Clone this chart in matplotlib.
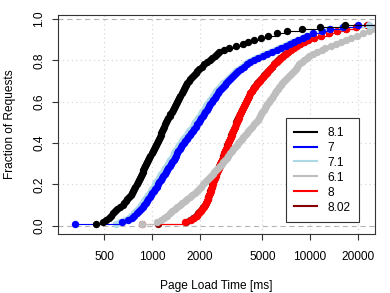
import numpy as np
import matplotlib.pyplot as plt
from matplotlib.lines import Line2D
from matplotlib.ticker import NullLocator

plt.rcParams['font.family'] = ['Liberation Sans', 'DejaVu Sans']

# page load times [ms], sorted, one value per percentile of requests
t_81 = [443, 490, 512, 532, 550, 566, 584, 604, 628, 652,
        668, 684, 698, 714, 731, 748, 760, 773, 785, 798,
        811, 824, 837, 849, 861, 871, 883, 895, 908, 920,
        933, 946, 961, 977, 993, 1009, 1026, 1040, 1057, 1074,
        1089, 1104, 1119, 1132, 1148, 1164, 1180, 1194, 1211, 1230,
        1250, 1271, 1291, 1309, 1330, 1352, 1374, 1396, 1419, 1442,
        1466, 1489, 1514, 1538, 1563, 1589, 1611, 1637, 1663, 1706,
        1750, 1795, 1841, 1888, 1936, 1995, 2070, 2148, 2228, 2312,
        2399, 2489, 2570, 2650, 2850, 3080, 3380, 3767, 4055, 4426,
        4898, 5420, 6180, 7150, 8890, 11570, 16660, 28000, 35000, 50000]
t_7 = [326, 646, 705, 742, 769, 798, 827, 852, 871, 890,
       910, 930, 943, 964, 986, 1007, 1030, 1052, 1076, 1091,
       1112, 1133, 1155, 1177, 1200, 1223, 1246, 1270, 1294, 1319,
       1344, 1368, 1392, 1417, 1442, 1467, 1495, 1521, 1548, 1583,
       1618, 1653, 1690, 1727, 1765, 1804, 1844, 1885, 1927, 1969,
       2013, 2051, 2091, 2131, 2171, 2213, 2255, 2295, 2335, 2387,
       2440, 2497, 2552, 2609, 2670, 2733, 2806, 2881, 2957, 3036,
       3117, 3209, 3304, 3401, 3517, 3637, 3794, 3964, 4171, 4421,
       4687, 5004, 5344, 5748, 6182, 6553, 7049, 7472, 7920, 8396,
       9000, 9572, 10447, 11912, 13383, 16175, 20128, 30000, 40000, 60000]
t_71 = [592, 627, 675, 710, 736, 764, 791, 815, 834, 852,
        871, 890, 902, 923, 944, 964, 986, 1007, 1030, 1044,
        1064, 1084, 1105, 1126, 1148, 1170, 1192, 1215, 1238, 1262,
        1286, 1309, 1332, 1356, 1380, 1404, 1431, 1456, 1481, 1515,
        1548, 1582, 1617, 1653, 1689, 1726, 1765, 1804, 1844, 1884,
        1926, 1963, 2001, 2039, 2078, 2118, 2158, 2196, 2235, 2284,
        2335, 2390, 2442, 2497, 2555, 2616, 2685, 2757, 2830, 2949,
        3028, 3117, 3209, 3303, 3416, 3533, 3685, 3850, 4051, 4294,
        4552, 4860, 5191, 5583, 6005, 6365, 6847, 7257, 7693, 8274,
        8870, 9433, 10296, 11739, 13189, 15940, 23500, 30000, 42000, 60000]
t_61 = [864, 1076, 1140, 1191, 1244, 1291, 1338, 1388, 1440, 1493,
        1548, 1606, 1665, 1727, 1791, 1858, 1927, 1984, 2042, 2103,
        2165, 2229, 2295, 2356, 2418, 2483, 2549, 2617, 2694, 2761,
        2831, 2902, 2974, 3045, 3117, 3195, 3275, 3352, 3436, 3522,
        3605, 3696, 3788, 3878, 3975, 4075, 4171, 4294, 4421, 4552,
        4687, 4762, 4839, 4917, 4997, 5078, 5160, 5243, 5328, 5461,
        5582, 5714, 5840, 5978, 6110, 6254, 6392, 6543, 6688, 6855,
        7048, 7246, 7449, 7669, 7885, 8106, 8333, 8567, 8872, 9202,
        9543, 9854, 10445, 11153, 11909, 12532, 13578, 14604, 15708, 16895,
        18172, 19832, 21644, 23622, 25780, 28548, 32000, 40000, 50000, 65000]
t_8 = [864, 1618, 1753, 1844, 1913, 1978, 2030, 2075, 2121, 2165,
       2197, 2226, 2252, 2275, 2298, 2322, 2346, 2369, 2394, 2418,
       2443, 2468, 2497, 2527, 2556, 2586, 2617, 2647, 2678, 2710,
       2741, 2774, 2806, 2839, 2872, 2906, 2940, 2974, 3009, 3045,
       3080, 3117, 3153, 3190, 3227, 3265, 3304, 3347, 3391, 3436,
       3481, 3527, 3574, 3621, 3674, 3728, 3783, 3838, 3895, 3952,
       4010, 4069, 4129, 4195, 4282, 4370, 4466, 4565, 4673, 4790,
       4910, 5041, 5175, 5312, 5453, 5607, 5772, 5952, 6137, 6327,
       6534, 6756, 6997, 7256, 7547, 7885, 8261, 8681, 9161, 9782,
       10599, 11737, 13188, 14926, 16895, 19545, 23281, 35000, 45000, 60000]
t_802 = [1091, 1630, 1740, 1830, 1900, 1965, 2020, 2068, 2112, 2155,
         2190, 2218, 2245, 2270, 2292, 2315, 2338, 2362, 2386, 2410,
         2435, 2460, 2488, 2517, 2547, 2577, 2607, 2638, 2669, 2700,
         2731, 2763, 2796, 2829, 2862, 2896, 2930, 2964, 2999, 3034,
         3070, 3106, 3143, 3180, 3217, 3255, 3294, 3336, 3380, 3424,
         3469, 3515, 3561, 3608, 3660, 3713, 3768, 3823, 3880, 3937,
         3995, 4054, 4114, 4180, 4265, 4352, 4447, 4545, 4652, 4768,
         4888, 5018, 5150, 5286, 5426, 5578, 5742, 5920, 6104, 6293,
         6498, 6718, 6957, 7214, 7503, 7838, 8210, 8627, 9103, 9720,
         10530, 11660, 13100, 14830, 16790, 19420, 23100, 34000, 44000, 58000]

versions = ['8.1', '7', '7.1', '6.1', '8', '8.02']
series = [t_81, t_7, t_71, t_61, t_8, t_802]
colors = ['black', '#0000FF', '#ADD8E6', '#BEBEBE', '#FF0000', '#8B0000']

x_ticks = [500, 1000, 2000, 5000, 10000, 20000]
y_ticks = [0.0, 0.2, 0.4, 0.6, 0.8, 1.0]

fs = 8.6

fig = plt.figure(figsize=(3.9, 2.93), dpi=100)
ax = fig.add_axes([0.1487, 0.2014, 0.8128, 0.7474])

# grid (R style dotted light gray)
for v in x_ticks:
    ax.axvline(v, color='#D3D3D3', lw=0.8, ls=(0, (1, 3)), zorder=0)
for v in y_ticks:
    ax.axhline(v, color='#D3D3D3', lw=0.8, ls=(0, (1, 3)), zorder=0)
ax.axhline(0, color='#B3B3B3', lw=0.8, ls=(0, (4, 4)), zorder=0.5)
ax.axhline(1, color='#B3B3B3', lw=0.8, ls=(0, (4, 4)), zorder=0.5)

# ecdf per version, drawn last-to-first like the original
for t, c in reversed(list(zip(series, colors))):
    x = np.array(t, dtype=float)
    y = np.arange(1, len(x) + 1) / len(x)
    ax.hlines(y[:-1], x[:-1], x[1:], color=c, lw=0.8)
    ax.plot(x, y, 'o', color=c, ms=5.3, mew=0)

ax.set_xscale('log')
ax.set_xlim(254, 25780)
ax.set_ylim(-0.0392, 1.0192)
ax.xaxis.set_minor_locator(NullLocator())
ax.set_xticks(x_ticks)
ax.set_xticklabels([str(v) for v in x_ticks], fontsize=fs)
ax.set_yticks(y_ticks)
ax.set_yticklabels(['%.1f' % v for v in y_ticks], fontsize=fs, rotation=90, va='center')
ax.tick_params(axis='both', direction='out', length=4.3, width=0.8, color='#333333')
ax.tick_params(axis='x', pad=8)
ax.tick_params(axis='y', pad=5)
for s in ax.spines.values():
    s.set_color('#333333')
    s.set_linewidth(0.8)

ax.set_xlabel('Page Load Time [ms]', fontsize=fs, labelpad=12)
ax.set_ylabel('Fraction of Requests', fontsize=fs, labelpad=12)

handles = [Line2D([0], [0], color=c, lw=1.5) for c in colors]
leg = ax.legend(handles, versions, loc='lower right', bbox_to_anchor=(0.950, 0.0548),
                fontsize=fs, frameon=True, fancybox=False, edgecolor='#333333',
                framealpha=1, borderpad=0.7, labelspacing=0.25, handlelength=1.9,
                handletextpad=0.9, borderaxespad=0)
leg.get_frame().set_linewidth(0.8)

fig.savefig('out.png', dpi=100)
